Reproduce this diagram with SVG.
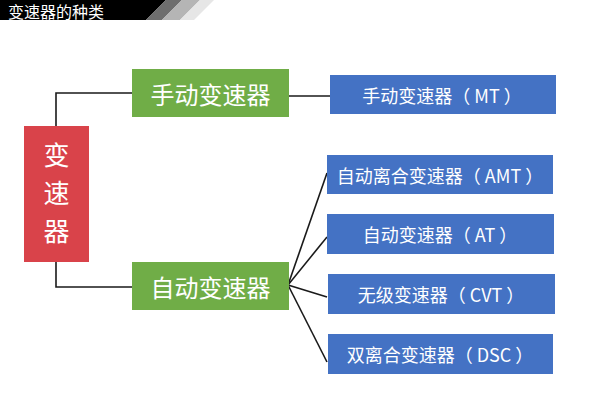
<svg xmlns="http://www.w3.org/2000/svg" width="600" height="400" viewBox="0 0 600 400">
<style>
.t{font-family:"Noto Sans CJK SC","Noto Sans",sans-serif;fill:#fff;text-anchor:middle;dominant-baseline:central}
.g{fill:#70ad47}
.b{fill:#4472c4}
.c{stroke:#1a1a1a;stroke-width:1.6;fill:none}
.s{font-size:18px}
.r{font-size:26px}
</style>
<rect width="600" height="400" fill="#fff"/>
<g id="header">
<polygon points="0,0 166,0 146,20 0,20" fill="#000"/>
<polygon points="166,0 182,0 162,20 146,20" fill="#6e6e6e"/>
<polygon points="182,0 200,0 180,20 162,20" fill="#b5b5b5"/>
<polygon points="200,0 214,0 194,20 180,20" fill="#e6e6e6"/>
<text x="8" y="11" class="t" style="text-anchor:start;font-size:16px">变速器的种类</text>
</g>
<g id="connectors">
<polyline class="c" points="56,126 56,93 132,93"/>
<polyline class="c" points="56,262 56,287 132,287"/>
<line class="c" x1="289" y1="96" x2="330" y2="96"/>
<line class="c" x1="288" y1="285" x2="327" y2="173"/>
<line class="c" x1="288" y1="285" x2="327" y2="237"/>
<line class="c" x1="288" y1="285" x2="327" y2="297"/>
<line class="c" x1="288" y1="285" x2="327" y2="362"/>
</g>
<g id="root">
<rect x="24" y="126" width="65" height="136" fill="#d9434a"/>
<text x="56.5" y="153" class="t r">变</text>
<text x="56.5" y="191" class="t r">速</text>
<text x="56.5" y="229" class="t r">器</text>
</g>
<g id="manual">
<rect x="132" y="69" width="157" height="48" class="g"/>
<text x="210.5" y="93" class="t" style="font-size:24px">手动变速器</text>
</g>
<g id="auto">
<rect x="132" y="262" width="157" height="48" class="g"/>
<text x="210.5" y="286" class="t" style="font-size:24px">自动变速器</text>
</g>
<g id="mt">
<rect x="330" y="75" width="226" height="39" class="b"/>
<text x="442" y="94.5" class="t s">手动变速器（ MT ）</text>
</g>
<g id="amt">
<rect x="327" y="155" width="226" height="39" class="b"/>
<text x="440" y="174.5" class="t s">自动离合变速器（ AMT ）</text>
</g>
<g id="at">
<rect x="327" y="214" width="227" height="40" class="b"/>
<text x="440" y="234" class="t s">自动变速器（ AT ）</text>
</g>
<g id="cvt">
<rect x="328" y="274" width="227" height="40" class="b"/>
<text x="441" y="294" class="t s">无级变速器（ CVT ）</text>
</g>
<g id="dsc">
<rect x="328" y="334" width="225" height="40" class="b"/>
<text x="440" y="354" class="t s">双离合变速器（ DSC ）</text>
</g>
</svg>
